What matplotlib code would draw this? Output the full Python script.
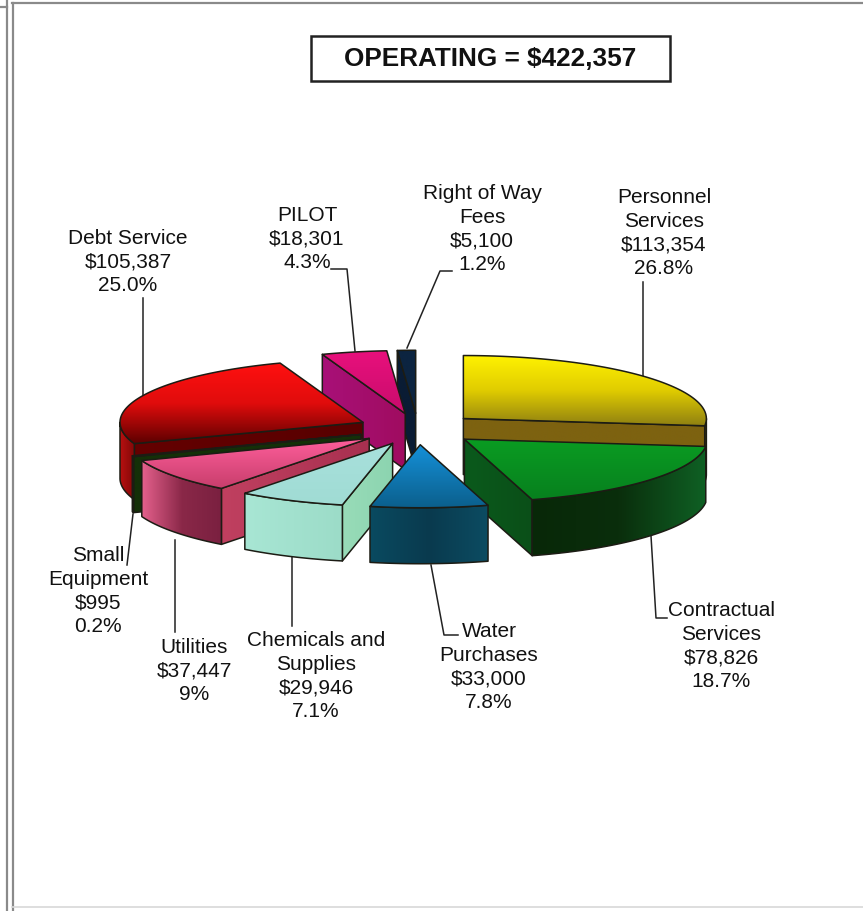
"""Operating budget breakdown drawn as an exploded 3D pie."""

from __future__ import annotations

import matplotlib

matplotlib.use("Agg")

import matplotlib.pyplot as plt
import numpy as np
from matplotlib.colors import LinearSegmentedColormap
from matplotlib.patches import Polygon, Rectangle

plt.rcParams["font.family"] = ["Liberation Sans", "DejaVu Sans"]

TITLE = "OPERATING = $422,357"

# slices run clockwise from 12 o'clock
CATEGORIES = [
    "Personnel\nServices",
    "Contractual\nServices",
    "Water\nPurchases",
    "Chemicals and\nSupplies",
    "Utilities",
    "Small\nEquipment",
    "Debt Service",
    "PILOT",
    "Right of Way\nFees",
]
AMOUNTS = [113354, 78826, 33000, 29946, 37447, 995, 105387, 18301, 5100]
PERCENT_LABELS = ["26.8%", "18.7%", "7.8%", "7.1%", "9%", "0.2%", "25.0%", "4.3%", "1.2%"]

# pie geometry in pixels
CENTER = (418, 430)
RX, RY = 243, 63
DEPTH = 56
EXPLODE = 0.25

# painter's order, back to front
DRAW_ORDER = [8, 7, 0, 6, 5, 4, 3, 1, 2]

# per slice: top gradient, cut face gradient, outer wall gradient
SLICE_STYLES = [
    (["#fff200", "#e0cc00", "#8f8012"], ["#7d6210", "#7d6210"], ["#8a7010", "#6e5a10"]),
    (["#0a9c22", "#07801e"], ["#0a5a1c", "#0b4f18"], ["#082808", "#0a2e0c", "#0f6024"]),
    (["#1590d8", "#0b5f8c"], ["#0a4258", "#0a4258"], ["#0a4a60", "#093a4e", "#0c4c62"]),
    (["#a8e0dc", "#a0dcd4"], ["#98dcb8", "#8cd4b0"], ["#a8e6d4", "#9cdcc8"]),
    (["#ff5f9c", "#c83e6c"], ["#c04060", "#a83050"], ["#e4608c", "#8a2848", "#7a2040"]),
    (["#1c3c0c", "#1c3c0c"], ["#143008", "#143008"], ["#1c400c", "#1c400c"]),
    (["#ff1010", "#e00c0c", "#5c0000"], ["#640000", "#580000"], ["#b81010", "#800808"]),
    (["#e8107c", "#c80c6c"], ["#a81078", "#a00c60"], ["#a00c60", "#a00c60"]),
    (["#0c2440", "#0c2440"], ["#0a1c34", "#0a1c34"], ["#0a1c34", "#0a1c34"]),
]

# label centre, then leader line from label to slice
LABEL_CENTERS = [
    (664, 233), (721, 646), (489, 667), (316, 676), (194, 671),
    (98, 591), (128, 262), (307, 239), (482, 229),
]
LEADERS = [
    [(643, 283), (643, 378)],
    [(667, 619), (656, 619), (651, 537)],
    [(458, 636), (444, 636), (431, 566)],
    [(292, 627), (292, 557)],
    [(175, 633), (175, 541)],
    [(127, 566), (133, 515)],
    [(143, 299), (143, 396)],
    [(331, 270), (347, 270), (355, 352)],
    [(452, 272), (440, 272), (407, 349)],
]

OUTLINE = "#1c1c14"


def rim_point(apex, theta):
    """Point on the slice rim at theta degrees clockwise from the top."""
    rad = np.radians(theta)
    return apex[0] + RX * np.sin(rad), apex[1] - RY * np.cos(rad)


def shade(ax, pts, colors, vertical, z):
    """Fill a polygon with a linear gradient and give it a dark outline."""
    pts = np.asarray(pts)
    cmap = LinearSegmentedColormap.from_list("face", colors)
    ramp = np.linspace(0, 1, 128)
    ramp = ramp[:, None] if vertical else ramp[None, :]
    x0, y0 = pts.min(axis=0)
    x1, y1 = pts.max(axis=0)
    img = ax.imshow(ramp, cmap=cmap, extent=(x0, x1, y1, y0), aspect="auto", zorder=z, interpolation="bilinear")
    clip = Polygon(pts, closed=True, transform=ax.transData, fill=False, edgecolor="none")
    ax.add_patch(clip)
    img.set_clip_path(clip)
    ax.add_patch(Polygon(pts, closed=True, fill=False, edgecolor=OUTLINE, linewidth=1.1, zorder=z + 0.5, joinstyle="round"))


def cut_face(apex, theta):
    ax_, ay_ = apex
    rx_, ry_ = rim_point(apex, theta)
    return [(ax_, ay_), (rx_, ry_), (rx_, ry_ + DEPTH), (ax_, ay_ + DEPTH)]


def draw_slice(ax, start, stop, style, z):
    """Draw one exploded slice: visible cut faces, outer wall, then top."""
    top_colors, cut_colors, wall_colors = style
    mid = np.radians((start + stop) / 2)
    apex = (
        CENTER[0] + EXPLODE * RX * np.sin(mid),
        CENTER[1] - EXPLODE * RY * np.cos(mid),
    )

    if np.sin(np.radians(start)) < 0:
        shade(ax, cut_face(apex, start), cut_colors, False, z)
        z += 1
    if np.sin(np.radians(stop)) > 0:
        shade(ax, cut_face(apex, stop), cut_colors, False, z)
        z += 1

    # only the part of the rim between 3 and 9 o'clock faces the viewer
    lo, hi = max(start, 90), min(stop, 270)
    if lo < hi:
        arc = [rim_point(apex, t) for t in np.linspace(lo, hi, 60)]
        wall = arc + [(x, y + DEPTH) for x, y in reversed(arc)]
        shade(ax, wall, wall_colors, False, z)
        z += 1

    rim = [rim_point(apex, t) for t in np.linspace(start, stop, 80)]
    shade(ax, [apex] + rim, top_colors, True, z)
    return z + 1


def main() -> None:
    fig = plt.figure(figsize=(8.63, 9.12), dpi=100)
    ax = fig.add_axes([0, 0, 1, 1])

    # page frame
    for xs, ys in [([7, 7], [0, 912]), ([12.5, 12.5], [4, 912]), ([12, 863], [4, 4]), ([0, 7], [8, 8])]:
        ax.plot(xs, ys, color="#8a8a8a", linewidth=1.6, zorder=1)
    ax.plot([12, 863], [908, 908], color="#d8d8d8", linewidth=1.2, zorder=1)

    edges = np.concatenate([[0], np.cumsum(AMOUNTS)]) / sum(AMOUNTS) * 360
    z = 10
    for idx in DRAW_ORDER:
        z = draw_slice(ax, edges[idx], edges[idx + 1], SLICE_STYLES[idx], z)

    for path in LEADERS:
        xs, ys = zip(*path)
        ax.plot(xs, ys, color="#222222", linewidth=1.1, zorder=5)

    for name, amount, pct, (x, y) in zip(CATEGORIES, AMOUNTS, PERCENT_LABELS, LABEL_CENTERS):
        ax.text(x, y, f"{name}\n${amount:,}\n{pct}", ha="center", va="center", parse_math=False,
                fontsize=15, linespacing=1.31, color="#111111", zorder=200)

    ax.add_patch(Rectangle((311, 37), 359, 45, facecolor="white", edgecolor="#222222", linewidth=1.8, zorder=150))
    ax.text(490.5, 59, TITLE, ha="center", va="center", parse_math=False, fontsize=18.8,
            fontweight="bold", color="#111111", zorder=200)

    ax.set_xlim(0, 863)
    ax.set_ylim(912, 0)
    ax.axis("off")
    fig.savefig("out.png", dpi=100, facecolor="white")
    plt.close(fig)


if __name__ == "__main__":
    main()
